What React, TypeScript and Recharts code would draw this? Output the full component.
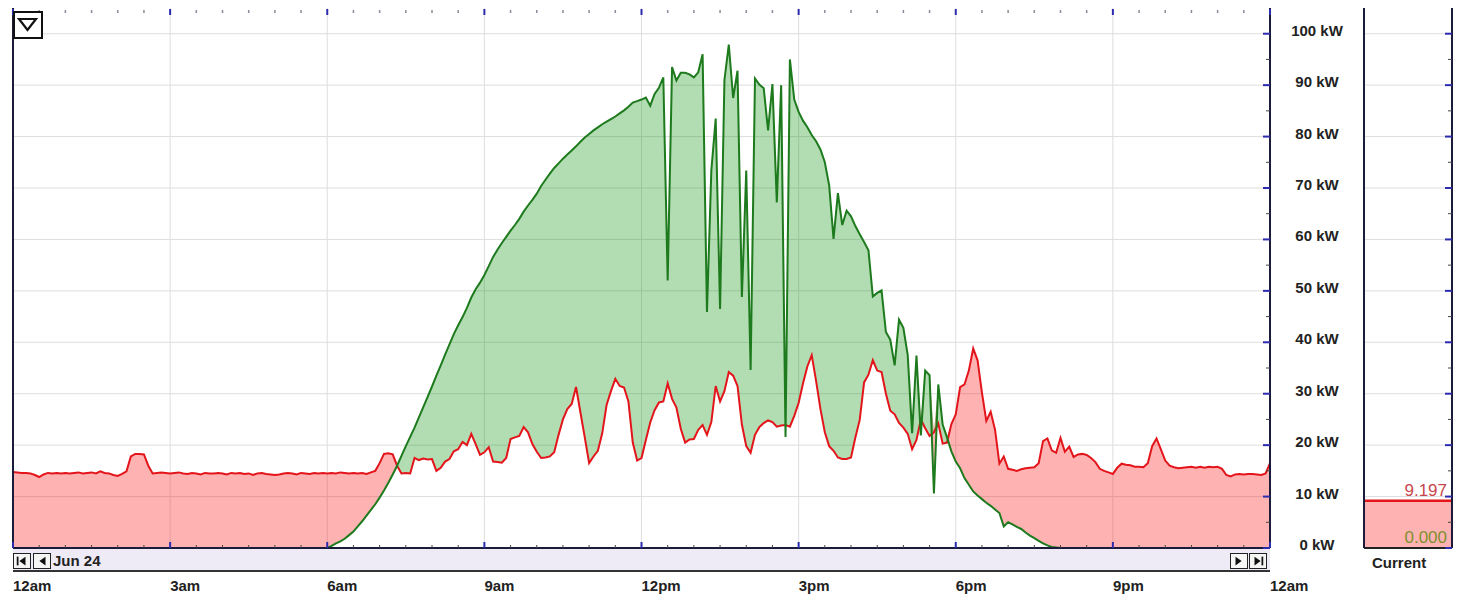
import {
  ComposedChart,
  Area,
  Line,
  XAxis,
  YAxis,
  CartesianGrid,
  ReferenceLine,
} from 'recharts';

// Site load, one reading every 5 minutes from 12am to 12am (kW)
const LOAD_KW = [
  14.8, 14.7, 14.6, 14.6, 14.5, 14.2, 13.8, 14.3, 14.6, 14.5, 14.6, 14.5,
  14.6, 14.5, 14.6, 14.7, 14.5, 14.6, 14.7, 14.5, 14.9, 14.6, 14.5, 14.2,
  14.0, 14.4, 14.9, 17.8, 18.3, 18.3, 18.2, 16.0, 14.5, 14.6, 14.7, 14.6,
  14.5, 14.6, 14.7, 14.5, 14.4, 14.6, 14.5, 14.3, 14.6, 14.5, 14.5, 14.6,
  14.5, 14.3, 14.6, 14.5, 14.6, 14.4, 14.5, 14.2, 14.5, 14.6, 14.4, 14.3,
  14.2, 14.3, 14.5, 14.6, 14.5, 14.3, 14.6, 14.5, 14.4, 14.6, 14.5, 14.6,
  14.5, 14.6, 14.5, 14.7, 14.6, 14.5, 14.6, 14.5, 14.6, 14.4, 14.7, 15.0,
  16.5, 18.3, 18.4, 18.2, 16.0, 14.5, 14.6, 14.5, 17.5, 17.1, 17.4, 17.2,
  17.3, 15.0, 15.6, 16.8, 17.3, 18.8, 19.2, 20.6, 20.0, 22.2, 20.2, 18.1,
  18.6, 19.6, 16.8, 16.7, 16.6, 17.5, 21.2, 21.5, 21.8, 23.5, 22.5, 20.2,
  18.7, 17.5, 17.6, 17.8, 18.6, 22.0, 25.0, 27.0, 28.0, 31.3, 26.4, 21.5,
  16.5, 17.8, 18.9, 22.3, 27.8, 30.5, 32.9, 31.5, 31.2, 28.5, 20.5, 17.0,
  17.5, 21.0, 24.4, 26.8, 28.3, 28.5, 32.0, 29.0, 27.3, 23.2, 20.5, 21.1,
  21.2, 23.0, 23.9, 22.0, 24.5, 31.5, 28.5, 30.5, 34.2, 33.5, 31.5, 24.0,
  19.8, 18.5, 22.0, 23.5, 24.3, 24.8, 24.5, 23.6, 23.8, 23.9, 23.6, 25.7,
  28.2, 32.0, 35.3, 37.5, 32.5, 27.0, 22.5, 19.8, 18.9, 17.6, 17.3, 17.3,
  17.6, 21.5, 24.9, 32.2, 33.7, 36.5, 34.5, 34.2, 30.0, 26.7, 26.0, 24.3,
  23.4, 22.2, 19.2, 21.0, 25.0, 23.3, 21.8, 22.5, 24.2, 20.3, 20.5, 24.1,
  26.0, 31.3, 31.8, 34.5, 38.8, 36.5, 30.2, 24.7, 26.5, 23.0, 16.4, 17.8,
  15.4, 15.2, 15.0, 15.3, 15.5, 15.6, 15.7, 16.5, 20.8, 21.3, 19.0, 18.5,
  21.4, 18.7, 19.7, 17.7, 18.2, 18.3, 18.1, 17.5, 16.7, 15.4, 15.0, 14.7,
  14.4, 15.6, 16.4, 16.2, 16.1, 15.8, 15.8, 15.7, 16.5, 19.8, 21.3, 19.2,
  17.0, 16.0, 15.7, 15.5, 15.6, 15.7, 15.8, 15.6, 15.8, 15.6, 15.8, 15.7,
  15.8, 15.4, 14.2, 13.9, 14.3, 14.4, 14.3, 14.4, 14.4, 14.3, 14.2, 14.5,
  16.5,
];

// Solar output, every 5 minutes from 6am to 8pm (kW)
const SOLAR_KW = [
  0, 0.4, 0.9, 1.3, 1.8, 2.5, 3.2, 4.2, 5.2, 6.3, 7.4, 8.5,
  9.8, 11.2, 12.7, 14.3, 16.0, 17.9, 19.8, 21.6, 23.4, 25.4, 27.4, 29.4,
  31.4, 33.5, 35.5, 37.6, 39.6, 41.6, 43.3, 44.9, 46.7, 48.7, 50.3, 51.6,
  53.1, 54.8, 56.6, 58.0, 59.3, 60.5, 61.7, 62.8, 64.0, 65.4, 66.6, 67.7,
  68.9, 70.4, 71.6, 72.8, 73.9, 74.8, 75.7, 76.5, 77.3, 78.1, 79.0, 79.8,
  80.5, 81.2, 81.8, 82.4, 82.9, 83.4, 83.9, 84.5, 85.1, 85.8, 86.6, 86.9,
  87.2, 87.6, 86.0, 88.3, 89.5, 91.5, 52.0, 93.5, 90.9, 92.4, 92.4, 92.1,
  91.5, 92.5, 96.0, 45.9, 73.4, 83.5, 46.5, 91.0, 97.9, 87.5, 92.8, 48.8,
  73.4, 34.6, 91.3, 90.1, 89.4, 81.2, 90.2, 67.2, 90.0, 21.6, 95.0, 87.2,
  84.8, 83.1, 81.8, 80.3, 79.1, 77.5, 75.0, 70.5, 60.1, 69.0, 62.8, 65.6,
  64.5, 62.6, 61.0, 59.5, 57.9, 48.9, 49.6, 50.1, 42.0, 40.5, 35.5, 44.4,
  42.8, 37.5, 22.3, 37.4, 21.9, 34.5, 33.6, 10.6, 31.8, 24.0, 21.5, 18.8,
  16.8, 15.5, 13.6, 12.3, 11.0, 10.2, 9.5, 8.8, 8.2, 7.5, 6.8, 4.2,
  5.0, 4.6, 4.1, 3.7, 3.0, 2.4, 1.9, 1.4, 0.9, 0.5, 0.2, 0.1,
  0,
];

const STEP_MIN = 5;
const SOLAR_START_MIN = 360;

const TIME_LABELS = ['12am', '3am', '6am', '9am', '12pm', '3pm', '6pm', '9pm', '12am'];
const KW_TICKS = [0, 5, 10, 15, 20, 25, 30, 35, 40, 45, 50, 55, 60, 65, 70, 75, 80, 85, 90, 95, 100];
const KW_GRID = [0, 10, 20, 30, 40, 50, 60, 70, 80, 90, 100];
const DAY_LABEL = 'Jun 24';

const CURRENT_LOAD_KW = 9.197;
const CURRENT_SOLAR_KW = 0;

const RED = '#e3151b';
const GREEN = '#1d7a1d';
const AXIS = '#1c1c3a';
const TICK_BLUE = '#2c2cae';
const FONT = '"Liberation Sans", Arial, sans-serif';
const Y_DOMAIN: [number, number] = [0, 105];

const HALF_HOURS = Array.from({ length: 49 }, (_, i) => i * 30);
const HOUR_GRID = [0, 180, 360, 540, 720, 900, 1080, 1260, 1440];

// fill between the two curves: green where solar is above load, red where load is above solar
const rows = LOAD_KW.map((load, i) => {
  const minute = i * STEP_MIN;
  const si = (minute - SOLAR_START_MIN) / STEP_MIN;
  const solar = si >= 0 && si < SOLAR_KW.length ? SOLAR_KW[si] : null;
  const s = solar ?? 0;
  const top = Math.max(load, s);
  return { minute, load, solar, greenBand: [load, top], redBand: [s, top] };
});

const currentRows = [
  { x: 0, load: CURRENT_LOAD_KW, solar: CURRENT_SOLAR_KW },
  { x: 1, load: CURRENT_LOAD_KW, solar: CURRENT_SOLAR_KW },
];

function BottomTick(props: any) {
  const { x, y, payload } = props;
  const m = payload.value;
  const major = m % 180 === 0;
  return (
    <g>
      {major ? (
        <rect x={x - 1} y={y - 6} width={2} height={6} fill={TICK_BLUE} />
      ) : (
        <line x1={x} x2={x} y1={y - 3} y2={y} stroke="#444" />
      )}
      {major && (
        <text x={x} y={y + 43} textAnchor="start" fontSize={15} fontWeight="bold" fill="#222" fontFamily={FONT}>
          {TIME_LABELS[m / 180]}
        </text>
      )}
    </g>
  );
}

function TopTick(props: any) {
  const { x, y, payload } = props;
  const major = payload.value % 180 === 0;
  return major ? (
    <rect x={x - 1} y={y + 1} width={2} height={6} fill={TICK_BLUE} />
  ) : (
    <rect x={x - 0.75} y={y + 2} width={1.5} height={3} fill="#8a8a9a" />
  );
}

// ticks drawn pointing into the plot; side = direction of the plot from the axis line
function makeKwTick(side: 1 | -1, withLabel: boolean) {
  return function KwTick(props: any) {
    const { x, y, payload } = props;
    const v = payload.value;
    const major = v % 10 === 0;
    const len = major ? 7 : 4;
    return (
      <g>
        {major ? (
          <rect x={side > 0 ? x : x - len} y={y - 1} width={len} height={2} fill={TICK_BLUE} />
        ) : (
          <line x1={x} x2={x + side * len} y1={y} y2={y} stroke="#444" />
        )}
        {withLabel && major && (
          <text x={x + 47} y={y + 2} textAnchor="middle" fontSize={15} fontWeight="bold" fill="#222" fontFamily={FONT}>
            {`${v} kW`}
          </text>
        )}
      </g>
    );
  };
}

const MainRightTick = makeKwTick(-1, true);
const PlainRightTick = makeKwTick(-1, false);
const PlainLeftTick = makeKwTick(1, false);

function NavButton({ left, dir, bar }: { left: number; dir: 'l' | 'r'; bar: boolean }) {
  const tri = dir === 'l' ? 'M13,3 L13,13 L6,8 Z' : 'M5,3 L5,13 L12,8 Z';
  const barX = dir === 'l' ? 3 : 13;
  return (
    <div
      style={{
        position: 'absolute',
        left,
        top: 553,
        width: 18,
        height: 16,
        boxSizing: 'border-box',
        border: '1.5px solid #222',
        background: '#f6f6f6',
      }}
    >
      <svg width={16} height={14} viewBox="0 0 18 16" style={{ display: 'block' }}>
        <path d={tri} fill="#111" />
        {bar && <rect x={barX} y={3} width={2} height={10} fill="#111" />}
      </svg>
    </div>
  );
}

export default function App() {
  return (
    <div
      style={{
        position: 'absolute',
        left: 0,
        top: 0,
        width: 1469,
        height: 603,
        background: '#fff',
        fontFamily: FONT,
        overflow: 'hidden',
      }}
    >
      <div style={{ position: 'absolute', left: 0, top: 0 }}>
        <ComposedChart width={1364} height={603} data={rows} margin={{ top: 7, right: 0, bottom: 25, left: 12 }}>
          <CartesianGrid
            stroke="#dedede"
            horizontalValues={KW_GRID}
            verticalValues={HOUR_GRID}
          />
          <XAxis
            dataKey="minute"
            type="number"
            domain={[0, 1440]}
            ticks={HALF_HOURS}
            interval={0}
            height={30}
            tickSize={0}
            tickMargin={0}
            tickLine={false}
            axisLine={{ stroke: AXIS, strokeWidth: 2 }}
            tick={BottomTick}
          />
          <XAxis
            xAxisId="top"
            orientation="top"
            dataKey="minute"
            type="number"
            domain={[0, 1440]}
            ticks={HALF_HOURS}
            interval={0}
            height={1}
            tickSize={0}
            tickMargin={0}
            tickLine={false}
            axisLine={false}
            tick={TopTick}
          />
          <YAxis
            orientation="right"
            type="number"
            domain={Y_DOMAIN}
            ticks={KW_TICKS}
            interval={0}
            width={94}
            tickSize={0}
            tickMargin={0}
            tickLine={false}
            axisLine={{ stroke: AXIS, strokeWidth: 2 }}
            tick={MainRightTick}
          />
          <YAxis
            yAxisId="l"
            orientation="left"
            type="number"
            domain={Y_DOMAIN}
            ticks={KW_TICKS}
            interval={0}
            width={1}
            tickSize={0}
            tickMargin={0}
            tickLine={false}
            axisLine={{ stroke: AXIS, strokeWidth: 2 }}
            tick={PlainLeftTick}
          />
          <Area
            dataKey="redBand"
            stroke="none"
            fill="#ff0000"
            fillOpacity={0.3}
            isAnimationActive={false}
            dot={false}
            activeDot={false}
          />
          <Area
            dataKey="greenBand"
            stroke="none"
            fill="#008a00"
            fillOpacity={0.3}
            isAnimationActive={false}
            dot={false}
            activeDot={false}
          />
          <Line dataKey="load" stroke={RED} strokeWidth={2} dot={false} activeDot={false} isAnimationActive={false} />
          <Line dataKey="solar" stroke={GREEN} strokeWidth={2} dot={false} activeDot={false} isAnimationActive={false} />
        </ComposedChart>
      </div>

      {/* Current value panel */}
      <div style={{ position: 'absolute', left: 1352, top: 0 }}>
        <ComposedChart width={112} height={603} data={currentRows} margin={{ top: 8, right: 11, bottom: 55, left: 11 }}>
          <CartesianGrid stroke="#dedede" horizontalValues={KW_GRID} vertical={false} />
          <XAxis dataKey="x" type="number" domain={[0, 1]} hide />
          <YAxis
            orientation="right"
            type="number"
            domain={Y_DOMAIN}
            ticks={KW_TICKS}
            interval={0}
            width={1}
            tickSize={0}
            tickMargin={0}
            tickLine={false}
            axisLine={{ stroke: AXIS, strokeWidth: 2 }}
            tick={PlainRightTick}
          />
          <YAxis
            yAxisId="l"
            orientation="left"
            type="number"
            domain={Y_DOMAIN}
            ticks={KW_TICKS}
            interval={0}
            width={1}
            tickSize={0}
            tickMargin={0}
            tickLine={false}
            axisLine={{ stroke: AXIS, strokeWidth: 2 }}
            tick={PlainLeftTick}
          />
          <Area
            dataKey="load"
            stroke={RED}
            strokeWidth={2.5}
            fill="#ff0000"
            fillOpacity={0.3}
            isAnimationActive={false}
            dot={false}
            activeDot={false}
          />
          <Line dataKey="solar" stroke={GREEN} strokeWidth={2} dot={false} activeDot={false} isAnimationActive={false} />
          <ReferenceLine
            y={CURRENT_LOAD_KW}
            stroke={RED}
            strokeOpacity={0}
            label={{
              value: CURRENT_LOAD_KW.toFixed(3),
              position: 'insideBottomRight',
              offset: 5,
              fill: '#c8474c',
              fontSize: 17,
              fontFamily: FONT,
            }}
          />
          <ReferenceLine
            y={CURRENT_SOLAR_KW}
            stroke="#222"
            strokeWidth={2}
            label={{
              value: CURRENT_SOLAR_KW.toFixed(3),
              position: 'insideBottomRight',
              offset: 5,
              fill: '#7f902e',
              fontSize: 17,
              fontFamily: FONT,
            }}
          />
        </ComposedChart>
      </div>

      {/* dropdown button */}
      <div
        style={{
          position: 'absolute',
          left: 13,
          top: 11,
          width: 30,
          height: 28,
          boxSizing: 'border-box',
          border: '2.5px solid #111',
          background: '#fff',
        }}
      >
        <svg width={25} height={23} style={{ display: 'block' }}>
          <path d="M4,6 L21,6 L12.5,17 Z" fill="none" stroke="#111" strokeWidth={2.2} strokeLinejoin="miter" />
        </svg>
      </div>

      {/* scroll strip */}
      <div
        style={{
          position: 'absolute',
          left: 13,
          top: 549,
          width: 1257,
          height: 21,
          background: '#eeebf7',
          borderBottom: '2px solid #333',
        }}
      />
      <NavButton left={13} dir="l" bar />
      <NavButton left={33} dir="l" bar={false} />
      <NavButton left={1230} dir="r" bar={false} />
      <NavButton left={1249} dir="r" bar />
      <div
        style={{
          position: 'absolute',
          left: 53,
          top: 552,
          fontSize: 15,
          fontWeight: 'bold',
          color: '#222',
          lineHeight: '17px',
        }}
      >
        {DAY_LABEL}
      </div>

      <div
        style={{
          position: 'absolute',
          left: 1372,
          top: 555,
          fontSize: 15,
          fontWeight: 'bold',
          color: '#222',
          lineHeight: '16px',
        }}
      >
        Current
      </div>
    </div>
  );
}
